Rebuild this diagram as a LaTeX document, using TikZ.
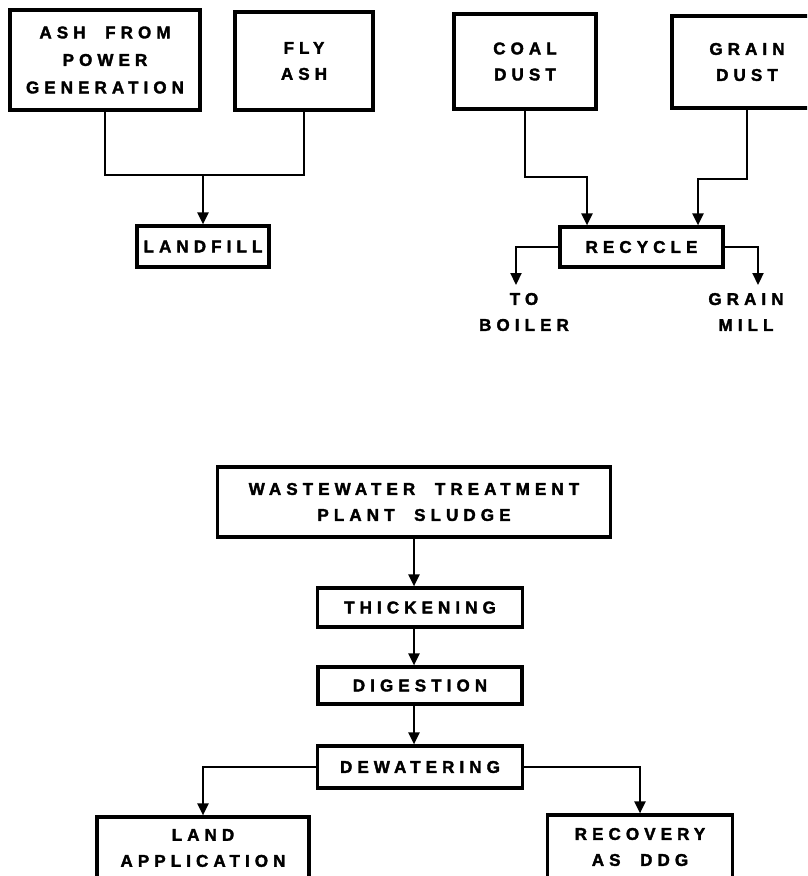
\documentclass[tikz,border=0pt]{standalone}
\usepackage{fontspec}
\usetikzlibrary{arrows.meta}
\newfontfamily\labfont[LetterSpace=30,FakeBold=2]{Liberation Sans Bold}
\tikzset{
  box/.style={draw, line width=3.2pt, inner sep=0pt, align=center,
    font=\labfont\fontsize{17}{26}\selectfont},
  lbl/.style={inner sep=0pt, align=center,
    font=\labfont\fontsize{17}{26}\selectfont},
  conn/.style={line width=2.2pt},
  arr/.style={line width=2.2pt, -{Triangle[length=12pt,width=11pt]}},
}
\begin{document}
\begin{tikzpicture}[x=1pt,y=-1pt]
\useasboundingbox (0,0) rectangle (807,876);
\clip (0,0) rectangle (807,876);
\fill[white] (0,0) rectangle (807,876);
% ---- top left ----
\node[box, minimum width=190pt, minimum height=100pt, font=\labfont\fontsize{17}{27.5}\selectfont] (ash) at (105,60) {ASH\ \ FROM\\POWER\\GENERATION};
\node[box, minimum width=138pt, minimum height=98pt] (fly) at (304,61) {FLY\\ASH};
\node[box, minimum width=132pt, minimum height=41pt] (landfill) at (203,246.5) {LANDFILL};
\coordinate (j1) at (203,175);
\draw[conn] (ash.south) |- (j1) -| (fly.south);
\draw[arr] (j1) -- (landfill.north);
% ---- top right ----
\node[box, minimum width=142pt, minimum height=95pt] (coal) at (525,61.5) {COAL\\DUST};
\node[box, minimum width=150pt, minimum height=92pt] (grain) at (747,62) {GRAIN\\DUST};
\node[box, minimum width=163pt, minimum height=40pt] (recycle) at (641.5,247) {RECYCLE};
\draw[arr] (coal.south) -- ++(0,66) -| ([xshift=-54.5pt]recycle.north);
\draw[arr] (grain.south) -- ++(0,69) -| ([xshift=56.5pt]recycle.north);
\node[lbl] (boiler) at (524,312) {TO\\BOILER};
\node[lbl] (mill) at (746,312) {GRAIN\\MILL};
\coordinate (tb) at (516,285);
\coordinate (gm) at (758,285);
\draw[arr] (recycle.west) -| (tb);
\draw[arr] (recycle.east) -| (gm);
% ---- bottom ----
\node[box, minimum width=393pt, minimum height=70pt] (wwt) at (414,502) {WASTEWATER\ \ TREATMENT\\PLANT\ \ SLUDGE};
\node[box, minimum width=205pt, minimum height=39pt] (thick) at (420,607.5) {THICKENING};
\node[box, minimum width=204pt, minimum height=37pt] (dig) at (420,685.5) {DIGESTION};
\node[box, minimum width=205pt, minimum height=42pt] (dew) at (420,767) {DEWATERING};
\node[box, minimum width=212pt, minimum height=62pt] (land) at (203,848) {LAND\\APPLICATION};
\node[box, minimum width=185pt, minimum height=64pt] (recov) at (640,847) {RECOVERY\\AS\ \ DDG};
\draw[arr] (wwt.south) -- (wwt.south |- thick.north);
\draw[arr] (wwt.south |- thick.south) -- (wwt.south |- dig.north);
\draw[arr] (wwt.south |- dig.south) -- (wwt.south |- dew.north);
\draw[arr] (dew.west) -| (land.north);
\draw[arr] (dew.east) -| (recov.north);
\end{tikzpicture}
\end{document}
